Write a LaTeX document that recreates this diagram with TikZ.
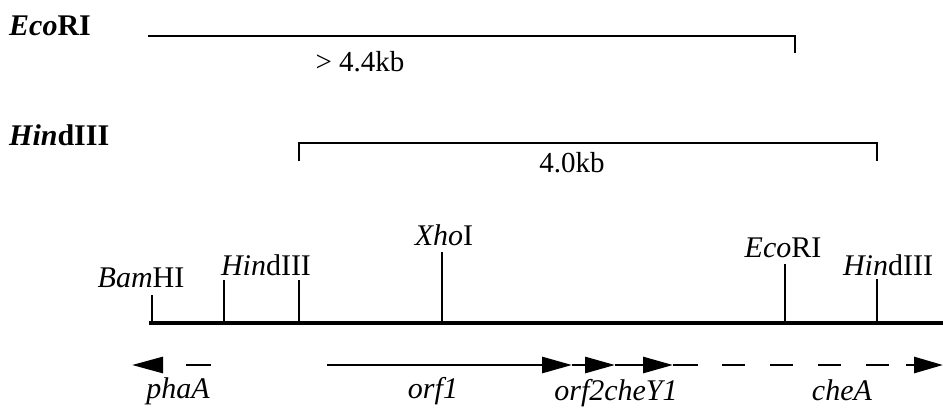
\documentclass[tikz,border=0pt]{standalone}
\usepackage{fontspec}
\setmainfont{Liberation Serif}
\usetikzlibrary{arrows.meta}
\begin{document}
\begin{tikzpicture}[x=1pt,y=-1pt,
  lbl/.style={font=\fontsize{30}{34}\selectfont, inner sep=0pt, anchor=base},
  enz/.style={font=\fontsize{30}{34}\selectfont\bfseries, inner sep=0pt, anchor=base west},
  sizelbl/.style={font=\fontsize{29}{33}\selectfont, inner sep=0pt, anchor=base},
  dna/.style={line width=4.8pt},
  site/.style={line width=2.8pt},
  bracket/.style={line width=2.5pt, line join=miter},
  gene/.style={line width=2.8pt},
  tip/.style={-{Triangle[length=30pt,width=16pt]}},
]
\useasboundingbox (0,0) rectangle (943,413);

% fragment sizes from the two digests
\node[enz] (ecoTitle) at (9,35) {\textit{Eco}RI};
\node[enz] (hindTitle) at (9,145) {\textit{Hin}dIII};

\coordinate (ecoA) at (148,36);
\coordinate (ecoB) at (795,36);
\coordinate (ecoBend) at (795,53);
\draw[bracket] (ecoA) -- (ecoB) -- (ecoBend);
\node[sizelbl] (ecoSize) at (360,71) {> 4.4kb};

\coordinate (hindA) at (299,143);
\coordinate (hindAend) at (299,161);
\coordinate (hindB) at (877,143);
\coordinate (hindBend) at (877,161);
\draw[bracket] (hindAend) -- (hindA) -- (hindB) -- (hindBend);
\node[sizelbl] (hindSize) at (572,172) {4.0kb};

% restriction map
\coordinate (mapL) at (149,323);
\coordinate (mapR) at (943,323);
\draw[dna] (mapL) -- (mapR);

\coordinate (bam) at (152,323);
\coordinate (hindL) at (224,323);
\coordinate (hindM) at (299,323);
\coordinate (xho) at (442,323);
\coordinate (eco) at (785,323);
\coordinate (hindR) at (877,323);

\draw[site] (bam) -- ++(0,-28);
\draw[site] (hindL) -- ++(0,-43);
\draw[site] (hindM) -- ++(0,-43);
\draw[site] (xho) -- ++(0,-71);
\draw[site] (eco) -- ++(0,-59);
\draw[site] (hindR) -- ++(0,-44);

\node[lbl] (bamLbl) at (141,287) {\textit{Bam}HI};
\node[lbl] (hindLLbl) at (266,275) {\textit{Hin}dIII};
\node[lbl] (xhoLbl) at (444,245) {\textit{Xho}I};
\node[lbl] (ecoLbl) at (783,257) {\textit{Eco}RI};
\node[lbl] (hindRLbl) at (888,275) {\textit{Hin}dIII};

% genes and their directions
\coordinate (phaTip) at (132,365);
\coordinate (phaBase) at (163,365);
\draw[gene,-{Triangle[length=31pt,width=16pt]}] (phaBase) -- (phaTip);
\draw[gene] (186,365) -- (211,365);

\coordinate (orfStart) at (327,365);
\coordinate (orfA) at (572,365);
\coordinate (orfB) at (615,365);
\coordinate (orfC) at (673,365);
\coordinate (orfEnd) at (698,365);
\draw[gene,tip] (orfStart) -- (orfA);
\draw[gene,tip] (orfA) -- (orfB);
\draw[gene,tip] (orfB) -- (orfC);
\draw[gene] (orfC) -- (orfEnd);

\coordinate (cheStart) at (722,365);
\coordinate (cheDash) at (892,365);
\coordinate (cheBase) at (906,365);
\coordinate (cheTip) at (943,365);
\draw[gene,dash pattern=on 23pt off 25pt] (cheStart) -- (cheDash);
\draw[gene,-{Triangle[length=29pt,width=16pt]}] (cheBase) -- (cheTip);

\node[lbl] (phaLbl) at (178,398) {\textit{phaA}};
\node[lbl] (orfLbl) at (433,398) {\textit{orf1}};
\node[lbl] (orf2Lbl) at (616,400) {\textit{orf2cheY1}};
\node[lbl] (cheLbl) at (842,400) {\textit{cheA}};
\end{tikzpicture}
\end{document}
